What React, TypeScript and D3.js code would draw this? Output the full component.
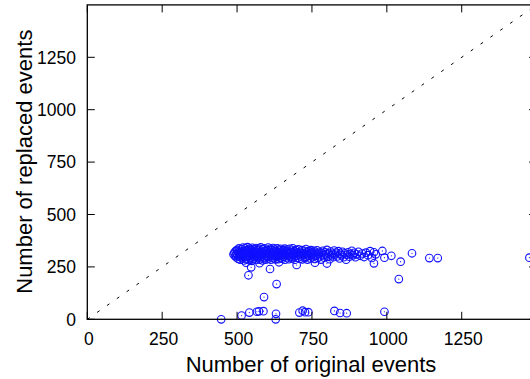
import React from "react";
import * as d3 from "d3";

// Number of original events / Number of replaced events
const clusterPoints: [number, number][] = [
  [488,310],[491,318],[493,302],[495,325],[497,296],[498,312],[500,331],[501,305],[503,289],[504,320],[506,338],[507,300],[509,314],[510,284],[511,327],[513,307],[514,295],[516,335],[517,318],[518,290],[520,342],[520,305],
  [522,326],[523,281],[524,313],[526,298],[527,339],[529,320],[530,287],[531,308],[533,330],[534,296],[535,344],[537,315],[538,283],[540,324],[541,303],[542,337],[544,291],[545,318],[547,309],[548,331],[549,279],[551,341],[552,300],[553,322],[555,288],[556,314],[558,334],[559,296],[560,326],
  [562,305],[563,340],[565,283],[566,319],[568,329],[569,293],[570,311],[572,337],[573,300],[575,322],[576,286],[578,315],[579,343],[581,297],[582,327],[584,308],[585,281],[587,334],[588,318],[590,292],[591,339],[593,303],[594,325],[596,285],[597,313],[599,331],
  [601,298],[602,320],[604,342],[605,289],[607,310],[608,328],[610,302],[611,336],[613,284],[614,317],[616,295],[617,330],[619,308],[620,340],[622,290],[623,322],[625,304],[626,333],[628,286],[629,314],[631,326],[632,298],[634,338],[635,309],[637,287],[638,321],[640,331],[641,301],[643,316],[644,293],[646,336],[647,306],[649,324],
  [651,289],[652,312],[654,330],[655,298],[657,319],[659,337],[660,284],[662,307],[663,325],[665,295],[667,314],[668,333],[670,302],[672,321],[673,287],[675,310],[676,336],[678,297],[680,318],[681,328],[683,291],[685,307],[686,339],[688,315],[690,299],[691,325],[693,284],[695,312],[696,331],[698,303],
  [701,320],[703,294],[705,334],[707,308],[709,289],[711,322],[713,314],[714,300],[716,330],[718,286],[720,317],[722,306],[724,327],[726,293],[728,313],[730,335],[731,298],[733,321],[735,285],[737,310],[739,326],[741,302],[743,316],[745,290],[747,330],[749,308],[751,320],[753,296],[755,312],[757,327],[759,288],
  [762,318],[765,304],[767,329],[770,293],[772,313],[775,322],[778,300],[780,285],[783,316],[786,327],[789,306],[791,294],[794,319],[797,310],[800,331],[803,298],[806,315],[809,287],[812,323],[815,305],[818,313],[821,296],[824,328],[827,309],
  [831,318],[835,300],[838,325],[842,290],[845,313],[849,305],[852,322],[856,296],[860,315],[864,284],[867,308],[871,320],[875,299],[879,312],[883,327],[887,305],[891,317],[895,296],[899,310],
  [905,322],[911,303],[917,314],[924,297],[930,318],[937,306],[944,325],[950,293],[957,320],[963,310],
  [530,270],[575,268],[640,272],[699,259],[760,270],[800,266],[957,267],
];

const outlierPoints: [number, number][] = [
  [985,326],[992,294],[1015,303],[1046,275],[1040,192],[1084,315],[1142,292],[1170,292],[1476,294],
  [538,210],[547,248],[610,240],[632,168],[590,106],
  [447,0],[515,18],[541,32],[566,36],[573,38],[588,39],[630,26],[629,0],
  [708,32],[719,41],[727,34],[738,34],[825,40],[844,30],[866,29],[992,36],
];

const xTicks = [0, 250, 500, 750, 1000, 1250];
const yTicks = [0, 250, 500, 750, 1000, 1250];
const xLabel = "Number of original events";
const yLabel = "Number of replaced events";

export default function App() {
  const x = d3.scaleLinear().domain([0, 1500]).range([87.3, 536.6]);
  const y = d3.scaleLinear().domain([0, 1500]).range([319.3, 4.9]);
  const font = "'Liberation Sans', Arial, Helvetica, sans-serif";
  const blue = "#1010ff";
  const all = [...clusterPoints, ...outlierPoints];
  const diag = d3.line<number>().x((d) => x(d)).y((d) => y(d))([0, 1500]) || "";
  const tl = 7.5;
  return (
    <svg width={530} height={379} style={{ position: "absolute", left: 0, top: 0, background: "#fff" }}>
      <rect x={0} y={0} width={530} height={379} fill="#fff" />
      <path d={diag} stroke="#000" strokeWidth={1} strokeDasharray="3,9" fill="none" />
      {all.map(([a, b], i) => (
        <g key={i}>
          <circle cx={x(a)} cy={y(b)} r={3.8} fill="none" stroke={blue} strokeWidth={1.1} />
          <circle cx={x(a)} cy={y(b)} r={0.6} fill={blue} />
        </g>
      ))}
      {/* border */}
      <rect x={x(0)} y={y(1500)} width={x(1500) - x(0)} height={y(0) - y(1500)} fill="none" stroke="#000" strokeWidth={1.3} />
      {xTicks.map((t) => (
        <g key={"x" + t}>
          <line x1={x(t)} x2={x(t)} y1={y(0)} y2={y(0) - tl} stroke="#000" strokeWidth={1} />
          <line x1={x(t)} x2={x(t)} y1={y(1500)} y2={y(1500) + tl} stroke="#000" strokeWidth={1} />
          <text x={x(t) + 1.5} y={345} textAnchor="middle" fontFamily={font} fontSize={17.5} fill="#000">{t}</text>
        </g>
      ))}
      {yTicks.map((t) => (
        <g key={"y" + t}>
          <line x1={x(0)} x2={x(0) + tl} y1={y(t)} y2={y(t)} stroke="#000" strokeWidth={1} />
          <line x1={x(1500)} x2={x(1500) - tl} y1={y(t)} y2={y(t)} stroke="#000" strokeWidth={1} />
          <text x={76} y={y(t) + 6.3} textAnchor="end" fontFamily={font} fontSize={17.5} fill="#000">{t}</text>
        </g>
      ))}
      <text x={311} y={372} textAnchor="middle" fontFamily={font} fontSize={22} fill="#000">{xLabel}</text>
      <text transform="translate(32,161.7) rotate(-90)" textAnchor="middle" fontFamily={font} fontSize={22} fill="#000">{yLabel}</text>
    </svg>
  );
}
